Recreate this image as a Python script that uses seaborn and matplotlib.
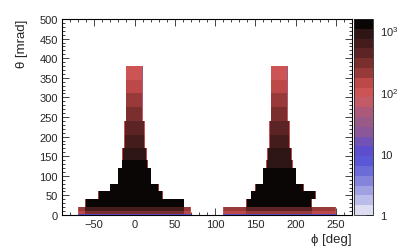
import numpy as np
import pandas as pd
import matplotlib
matplotlib.use("Agg")
import matplotlib.pyplot as plt
import seaborn as sns
from matplotlib.colors import ListedColormap, LogNorm
from matplotlib.ticker import MultipleLocator, LogLocator, NullFormatter


# ── data ─────────────────────────────────────────────────────────────────────
# theta rows (mrad); each peak has a phi extent and a count per row
theta_edges = [0, 2, 10, 20, 40, 60, 80, 120, 140, 170, 205, 240, 275, 310, 345, 380]

left_phi_lo  = [-70, -70, -70, -61, -45, -31, -21, -16, -15, -13, -13, -11, -11, -11, -11]
left_phi_hi  = [70, 70, 70, 62, 35, 30, 21, 17, 15, 13, 13, 10, 10, 10, 10]
left_counts  = [12, 260, 600, 1400, 1450, 1450, 1400, 1100, 900, 650, 480, 330, 230, 160, 110]
left_wings   = [12, 150, 200]     # bottom rows, outside the 20-40 mrad extent
left_edge    = [12, 110, 140, 220, 220, 220, 200, 180, 150, 120, 100, 70, 50, 40, 30]

right_phi_lo = [110, 110, 110, 139, 144, 150, 159, 163, 165, 167, 167, 169, 169, 169, 169]
right_phi_hi = [250, 250, 250, 220, 225, 210, 201, 197, 195, 193, 193, 190, 190, 190, 190]
right_counts = [10, 200, 450, 1350, 1400, 1400, 1350, 1050, 850, 620, 450, 310, 220, 150, 105]
right_wings  = [10, 140, 180]
right_edge   = [10, 100, 130, 200, 200, 200, 190, 170, 140, 110, 90, 65, 50, 40, 30]

# palette, bottom (1 entry) -> top (10^3)
palette = ["#dcdcf2", "#bcbcea", "#a0a0e2", "#8484dc", "#6c6cd8",
           "#5a58d6", "#5c4ecc", "#7252b4", "#8a5898", "#9a5a88",
           "#ac5878", "#c25a68", "#cc5454", "#bc4848", "#983a3a",
           "#7a2e2e", "#5c2424", "#441c1c", "#2e1616", "#0b0606"]
z_min, z_max = 1, 1540


# ── build fill table (1 deg phi bins) ─────────────────────────────────────────
recs = []
peaks = [(left_phi_lo, left_phi_hi, left_counts, left_wings, left_edge),
         (right_phi_lo, right_phi_hi, right_counts, right_wings, right_edge)]
for lo_l, hi_l, cnt, wing, edge in peaks:
    core_lo, core_hi = lo_l[3], hi_l[3]
    for i in range(len(cnt)):
        t_mid = (theta_edges[i] + theta_edges[i + 1]) / 2
        xs = np.arange(lo_l[i] + 0.5, hi_l[i])
        for x in xs:
            w = cnt[i]
            if i < len(wing) and not (core_lo <= x < core_hi):
                w = wing[i]
            if x == xs[0] or x == xs[-1]:
                w = edge[i]
            recs.append((x, t_mid, w))
df = pd.DataFrame(recs, columns=["phi", "theta", "n"])

x_edges = np.arange(-90, 271, 1)
y_edges = np.array(theta_edges + [500])


# ── plot ─────────────────────────────────────────────────────────────────────
sns.set_theme(style="ticks")
plt.rcParams["font.family"] = ["Liberation Sans", "DejaVu Sans"]
plt.rcParams["mathtext.fontset"] = "custom"
plt.rcParams["mathtext.rm"] = "Liberation Sans"

W, H = 415, 253
fig = plt.figure(figsize=(W / 100, H / 100), dpi=100)
ax  = fig.add_axes([62 / W, 37 / H, 290 / W, 196 / H])
cax = fig.add_axes([354 / W, 37 / H, 19 / W, 196 / H])

cmap = ListedColormap(palette)
sns.histplot(df, x="phi", y="theta", weights="n", bins=[x_edges, y_edges],
             cmap=cmap, ax=ax)
mesh = ax.collections[0]
mesh.set_norm(LogNorm(vmin=z_min, vmax=z_max))

ax.set_xlim(-90, 270)
ax.set_ylim(0, 500)
ax.xaxis.set_major_locator(MultipleLocator(50))
ax.xaxis.set_minor_locator(MultipleLocator(10))
ax.yaxis.set_major_locator(MultipleLocator(50))
ax.yaxis.set_minor_locator(MultipleLocator(10))
ax.tick_params(which="both", direction="in", top=True, right=True,
               labelsize=8, color="#444444", width=0.7, pad=3)
ax.tick_params(which="major", length=5)
ax.tick_params(which="minor", length=2.5)
for s in ax.spines.values():
    s.set_linewidth(0.8)
    s.set_color("black")

ax.set_xlabel("ϕ [deg]", loc="right", fontsize=9.5, labelpad=3)
ax.set_ylabel("θ [mrad]", loc="top", fontsize=9.5, labelpad=8)

cb = fig.colorbar(mesh, cax=cax)
cb.outline.set_linewidth(0.6)
cb.set_ticks([1, 10, 100, 1000])
cb.set_ticklabels(["1", "10", "10$^2$", "10$^3$"])
cax.yaxis.set_minor_locator(LogLocator(base=10, subs=np.arange(2, 10)))
cax.yaxis.set_minor_formatter(NullFormatter())
cax.tick_params(which="both", direction="in", right=True, left=False,
                labelsize=8, color="#333333", width=0.7, pad=5)
cax.tick_params(which="major", length=5)
cax.tick_params(which="minor", length=2.5)

fig.savefig("out.png", dpi=100)
